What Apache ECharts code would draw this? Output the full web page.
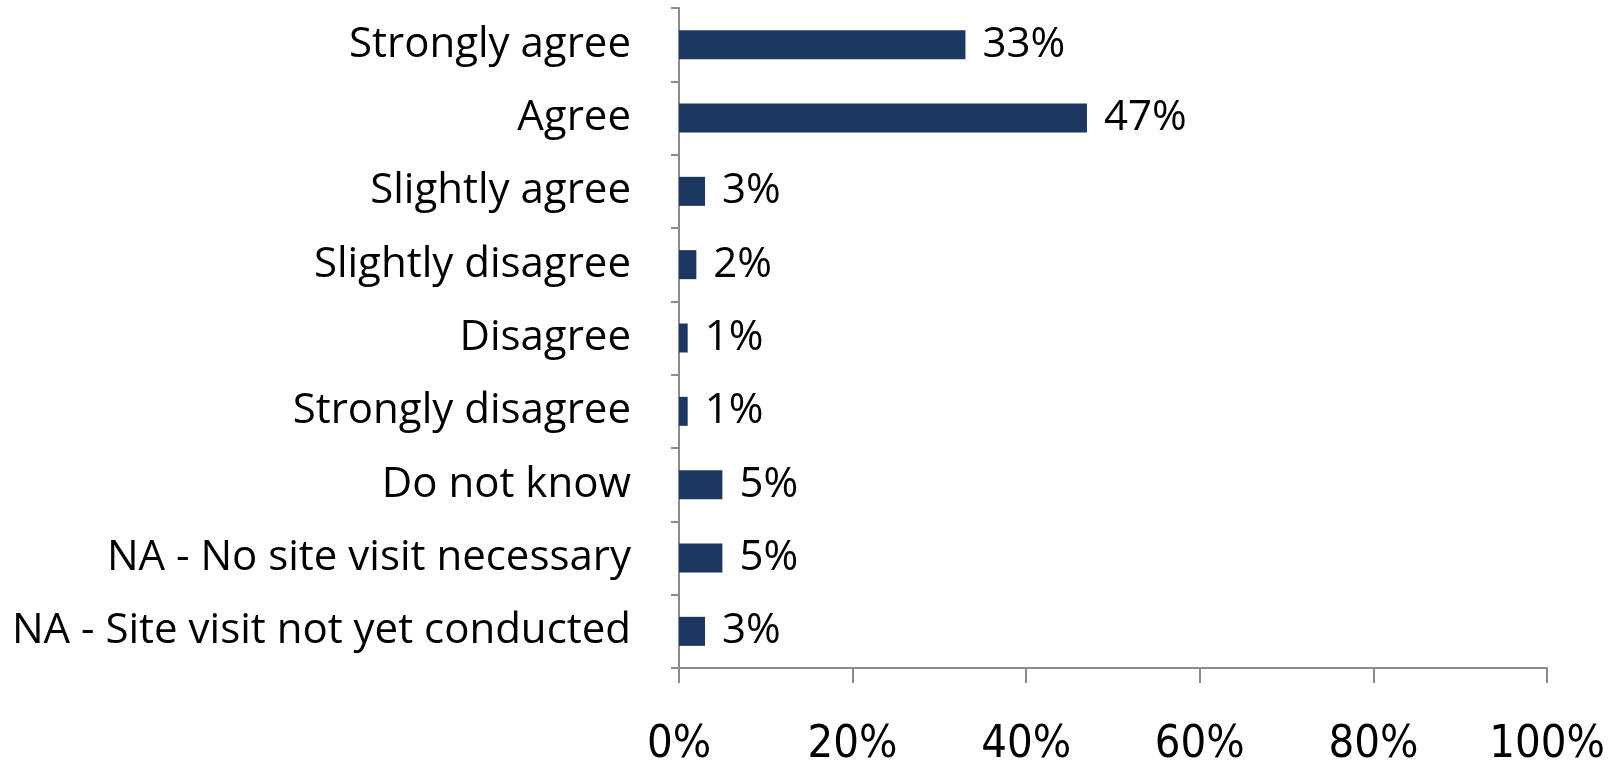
<!DOCTYPE html>
<html>
<head>
<meta charset="utf-8">
<script src="https://cdn.jsdelivr.net/npm/echarts@6/dist/echarts.min.js"></script>
<style>
  html, body { margin: 0; padding: 0; background: #ffffff; }
  #chart { width: 1612px; height: 761px; }
</style>
</head>
<body>
<div id="chart"></div>
<script>
// Survey responses, top to bottom
const categories = [
  'Strongly agree',
  'Agree',
  'Slightly agree',
  'Slightly disagree',
  'Disagree',
  'Strongly disagree',
  'Do not know',
  'NA - No site visit necessary',
  'NA - Site visit not yet conducted'
];
// Share of respondents (%)
const shares = [33, 47, 3, 2, 1, 1, 5, 5, 3];
// Horizontal axis ticks (%)
const xTicks = [0, 20, 40, 60, 80, 100];

const axisGray = '#8c8c8c';
const barColor = '#1c3860';
const labelFont = "'Open Sans', 'Noto Sans', sans-serif";
const narrowFont = "'Liberation Sans Narrow', 'DejaVu Sans Condensed', 'Open Sans', sans-serif";

const chart = echarts.init(document.getElementById('chart'), null, { renderer: 'canvas' });
chart.setOption({
  animation: false,
  backgroundColor: '#ffffff',
  grid: { left: 679, top: 8, right: 65, bottom: 93, containLabel: false, outerBoundsMode: 'none' },
  xAxis: {
    type: 'value',
    min: xTicks[0],
    max: xTicks[xTicks.length - 1],
    interval: xTicks[1] - xTicks[0],
    axisLine: { show: true, lineStyle: { color: axisGray, width: 2 } },
    axisTick: { show: true, length: 15, lineStyle: { color: axisGray, width: 2 } },
    splitLine: { show: false },
    axisLabel: {
      margin: 55,
      color: '#000000',
      fontFamily: narrowFont,
      fontSize: 45,
      formatter: v => v + '%'
    }
  },
  yAxis: {
    type: 'category',
    data: categories,
    inverse: true,
    axisLine: { show: true, lineStyle: { color: axisGray, width: 2 } },
    axisTick: { show: true, length: 8, lineStyle: { color: axisGray, width: 2 } },
    axisLabel: {
      margin: 48,
      padding: [6, 0, 0, 0],
      color: '#000000',
      fontFamily: labelFont,
      fontSize: 42
    }
  },
  series: [{
    type: 'bar',
    data: shares,
    barWidth: 29,
    itemStyle: { color: barColor },
    label: {
      show: true,
      position: 'right',
      distance: 17,
      padding: [6, 0, 0, 0],
      color: '#000000',
      fontFamily: labelFont,
      fontSize: 42,
      formatter: p => p.value + '%'
    }
  }]
});
</script>
</body>
</html>
